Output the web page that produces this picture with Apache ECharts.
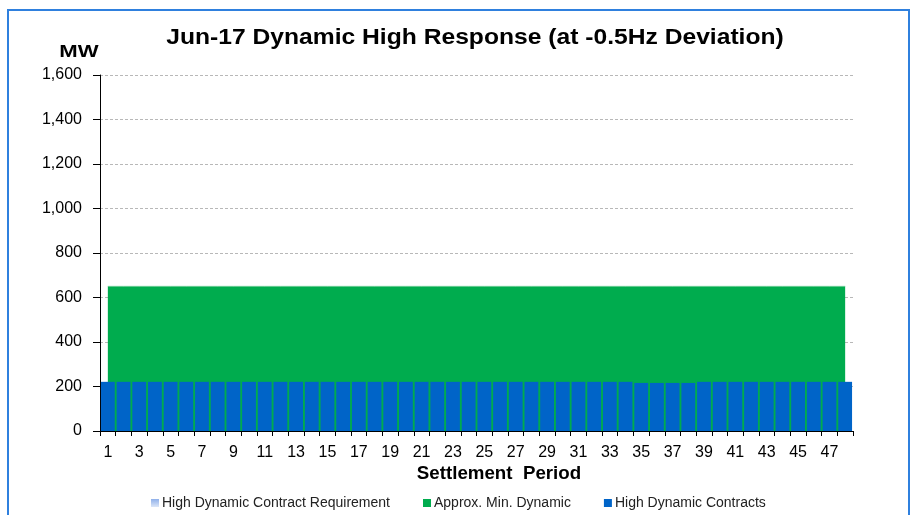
<!DOCTYPE html>
<html>
<head>
<meta charset="utf-8">
<script src="https://cdn.jsdelivr.net/npm/echarts@6/dist/echarts.min.js"></script>
<style>
html,body{margin:0;padding:0;background:#fff;}
#chart{width:916px;height:515px;}
</style>
</head>
<body>
<div id="chart"></div>
<script>
var categories = [];
for (var i = 1; i <= 48; i++) categories.push(String(i));
var requirement = [];
var approxMinDynamic = [650,650,650,650,650,650,650,650,650,650,650,650,650,650,650,650,650,650,650,650,650,650,650,650,650,650,650,650,650,650,650,650,650,650,650,650,650,650,650,650,650,650,650,650,650,650,650,650];
var highDynamicContracts = [221,221,221,221,221,221,221,221,221,221,221,221,221,221,221,221,221,221,221,221,221,221,221,221,221,221,221,221,221,221,221,221,221,221,216,216,216,216,221,221,221,221,221,221,221,221,221,221];
var yTicks = {min: 0, max: 1600, interval: 200};

var chart = echarts.init(document.getElementById('chart'));
var FONT = '"Liberation Sans", Arial, sans-serif';
chart.setOption({
  animation: false,
  backgroundColor: '#fff',
  textStyle: {fontFamily: FONT},
  graphic: [
    {type: 'rect', shape: {x: 8, y: 10, width: 901, height: 520}, style: {fill: 'none', stroke: '#2f80de', lineWidth: 2}, z: 0},
    {type: 'text', style: {text: 'Jun-17 Dynamic High Response (at -0.5Hz Deviation)', font: 'bold 22px ' + FONT, fill: '#000', textAlign: 'center', textVerticalAlign: 'top'}, position: [475, 27], scaleX: 1.12, scaleY: 1},
    {type: 'text', style: {text: 'MW', font: 'bold 17px ' + FONT, fill: '#000', textAlign: 'center', textVerticalAlign: 'top'}, position: [79, 44], scaleX: 1.3, scaleY: 1},
    {type: 'text', style: {text: 'Settlement  Period', font: 'bold 18px ' + FONT, fill: '#000', textAlign: 'center', textVerticalAlign: 'top'}, position: [499, 465], scaleX: 1.04, scaleY: 1}
  ],
  legend: {
    bottom: 0,
    left: 146,
    itemWidth: 8,
    itemHeight: 8,
    itemGap: 33,
    icon: 'rect',
    textStyle: {fontSize: 14, color: '#222', fontFamily: FONT, padding: [0, 0, 0, -2]},
    data: ['High Dynamic Contract Requirement', 'Approx. Min. Dynamic', 'High Dynamic Contracts']
  },
  grid: {left: 100, right: 63, top: 75, bottom: 84},
  xAxis: {
    type: 'category',
    data: categories,
    boundaryGap: true,
    axisLine: {lineStyle: {color: '#000', width: 1}},
    axisTick: {show: true, interval: 0, length: 5, lineStyle: {color: '#000'}},
    axisLabel: {interval: 1, fontSize: 16, color: '#000', margin: 14, fontFamily: FONT}
  },
  yAxis: {
    type: 'value',
    min: yTicks.min, max: yTicks.max, interval: yTicks.interval,
    axisLine: {show: true, lineStyle: {color: '#000', width: 1}},
    axisTick: {show: true, length: 7, lineStyle: {color: '#000'}},
    axisLabel: {fontSize: 16, color: '#000', margin: 18, fontFamily: FONT,
      formatter: function (v) { return v.toLocaleString('en-US'); }},
    splitLine: {show: true, lineStyle: {color: '#b8b8b8', type: [3, 2], width: 1}}
  },
  series: [
    {
      name: 'High Dynamic Contract Requirement',
      type: 'line',
      data: requirement,
      symbol: 'none',
      itemStyle: {color: new echarts.graphic.LinearGradient(0, 0, 0, 1, [{offset: 0, color: '#8fb0ea'}, {offset: 1, color: '#dbe6f8'}])},
      lineStyle: {width: 0},
      areaStyle: {color: '#b7cdf2'}
    },
    {
      name: 'Approx. Min. Dynamic',
      type: 'line',
      data: approxMinDynamic,
      symbol: 'none',
      itemStyle: {color: '#00ac4e'},
      lineStyle: {width: 1, color: '#5fc98c'},
      areaStyle: {color: '#00ac4e', opacity: 1},
      z: 2
    },
    {
      name: 'High Dynamic Contracts',
      type: 'bar',
      data: highDynamicContracts,
      barCategoryGap: '12%',
      itemStyle: {color: '#0064c8'},
      z: 3
    }
  ]
});
</script>
</body>
</html>
